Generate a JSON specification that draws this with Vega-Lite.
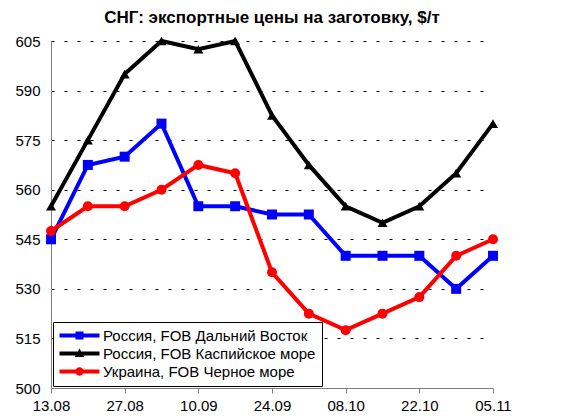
{
  "$schema": "https://vega.github.io/schema/vega-lite/v6.json",
  "autosize": "none",
  "width": 442,
  "height": 347,
  "padding": {"left": 51, "top": 41, "right": 81, "bottom": 30},
  "background": "white",
  "config": {
    "view": {"stroke": null},
    "font": "Liberation Sans",
    "title": {"font": "Liberation Sans", "fontSize": 17, "fontWeight": "bold", "color": "black"}
  },
  "title": {"text": "СНГ: экспортные цены на заготовку, $/т", "offset": 6, "baseline": "bottom", "anchor": "middle", "frame": "group", "dy": 17},
  "data": {
    "values": [
      {"date": "2007-08-13", "series": "Россия, FOB Дальний Восток", "value": 545},
      {"date": "2007-08-20", "series": "Россия, FOB Дальний Восток", "value": 567.5},
      {"date": "2007-08-27", "series": "Россия, FOB Дальний Восток", "value": 570},
      {"date": "2007-09-03", "series": "Россия, FOB Дальний Восток", "value": 580},
      {"date": "2007-09-10", "series": "Россия, FOB Дальний Восток", "value": 555},
      {"date": "2007-09-17", "series": "Россия, FOB Дальний Восток", "value": 555},
      {"date": "2007-09-24", "series": "Россия, FOB Дальний Восток", "value": 552.5},
      {"date": "2007-10-01", "series": "Россия, FOB Дальний Восток", "value": 552.5},
      {"date": "2007-10-08", "series": "Россия, FOB Дальний Восток", "value": 540},
      {"date": "2007-10-15", "series": "Россия, FOB Дальний Восток", "value": 540},
      {"date": "2007-10-22", "series": "Россия, FOB Дальний Восток", "value": 540},
      {"date": "2007-10-29", "series": "Россия, FOB Дальний Восток", "value": 530},
      {"date": "2007-11-05", "series": "Россия, FOB Дальний Восток", "value": 540},
      {"date": "2007-08-13", "series": "Россия, FOB Каспийское море", "value": 555},
      {"date": "2007-08-20", "series": "Россия, FOB Каспийское море", "value": 575},
      {"date": "2007-08-27", "series": "Россия, FOB Каспийское море", "value": 595},
      {"date": "2007-09-03", "series": "Россия, FOB Каспийское море", "value": 605},
      {"date": "2007-09-10", "series": "Россия, FOB Каспийское море", "value": 602.5},
      {"date": "2007-09-17", "series": "Россия, FOB Каспийское море", "value": 605},
      {"date": "2007-09-24", "series": "Россия, FOB Каспийское море", "value": 582.5},
      {"date": "2007-10-01", "series": "Россия, FOB Каспийское море", "value": 567.5},
      {"date": "2007-10-08", "series": "Россия, FOB Каспийское море", "value": 555},
      {"date": "2007-10-15", "series": "Россия, FOB Каспийское море", "value": 550},
      {"date": "2007-10-22", "series": "Россия, FOB Каспийское море", "value": 555},
      {"date": "2007-10-29", "series": "Россия, FOB Каспийское море", "value": 565},
      {"date": "2007-11-05", "series": "Россия, FOB Каспийское море", "value": 580},
      {"date": "2007-08-13", "series": "Украина, FOB Черное море", "value": 547.5},
      {"date": "2007-08-20", "series": "Украина, FOB Черное море", "value": 555},
      {"date": "2007-08-27", "series": "Украина, FOB Черное море", "value": 555},
      {"date": "2007-09-03", "series": "Украина, FOB Черное море", "value": 560},
      {"date": "2007-09-10", "series": "Украина, FOB Черное море", "value": 567.5},
      {"date": "2007-09-17", "series": "Украина, FOB Черное море", "value": 565},
      {"date": "2007-09-24", "series": "Украина, FOB Черное море", "value": 535},
      {"date": "2007-10-01", "series": "Украина, FOB Черное море", "value": 522.5},
      {"date": "2007-10-08", "series": "Украина, FOB Черное море", "value": 517.5},
      {"date": "2007-10-15", "series": "Украина, FOB Черное море", "value": 522.5},
      {"date": "2007-10-22", "series": "Украина, FOB Черное море", "value": 527.5},
      {"date": "2007-10-29", "series": "Украина, FOB Черное море", "value": 540},
      {"date": "2007-11-05", "series": "Украина, FOB Черное море", "value": 545}
    ]
  },
  "encoding": {
    "x": {
      "field": "date", "type": "temporal",
      "scale": {"type": "utc", "domain": [{"year": 2007, "month": 8, "date": 13, "utc": true}, {"year": 2007, "month": 11, "date": 5, "utc": true}]},
      "axis": {
        "title": null, "labelExpr": "utcFormat(datum.value, '%d.%m')",
        "values": [
          {"year": 2007, "month": 8, "date": 13, "utc": true},
          {"year": 2007, "month": 8, "date": 27, "utc": true},
          {"year": 2007, "month": 9, "date": 10, "utc": true},
          {"year": 2007, "month": 9, "date": 24, "utc": true},
          {"year": 2007, "month": 10, "date": 8, "utc": true},
          {"year": 2007, "month": 10, "date": 22, "utc": true},
          {"year": 2007, "month": 11, "date": 5, "utc": true}
        ],
        "grid": false, "domainColor": "#808080", "tickColor": "#808080", "tickSize": 5,
        "labelFont": "Liberation Sans", "labelFontSize": 15, "labelColor": "black", "labelPadding": 5,
        "labelFlush": false, "labelOverlap": false
      }
    },
    "y": {
      "field": "value", "type": "quantitative",
      "scale": {"domain": [500, 605], "nice": false, "zero": false},
      "axis": {
        "title": null, "values": [500, 515, 530, 545, 560, 575, 590, 605],
        "ticks": false, "domainColor": "#808080", "grid": true, "gridColor": "black", "gridDash": [3, 10], "gridWidth": 1,
        "labelFont": "Liberation Sans", "labelFontSize": 15, "labelColor": "black", "labelPadding": 11
      }
    }
  },
  "layer": [
    {
      "mark": {"type": "line", "strokeWidth": 4},
      "encoding": {
        "color": {"field": "series", "type": "nominal", "legend": null,
          "scale": {"domain": ["Россия, FOB Дальний Восток", "Россия, FOB Каспийское море", "Украина, FOB Черное море"], "range": ["#0000FF", "#000000", "#FF0000"]}}
      }
    },
    {
      "mark": {"type": "point", "filled": true, "opacity": 1, "size": 100},
      "encoding": {
        "color": {"field": "series", "type": "nominal", "legend": null,
          "scale": {"domain": ["Россия, FOB Дальний Восток", "Россия, FOB Каспийское море", "Украина, FOB Черное море"], "range": ["#0000FF", "#000000", "#FF0000"]}},
        "shape": {"field": "series", "type": "nominal", "legend": null,
          "scale": {"domain": ["Россия, FOB Дальний Восток", "Россия, FOB Каспийское море", "Украина, FOB Черное море"], "range": ["square", "triangle-up", "circle"]}}
      }
    },
    {
      "mark": {"type": "point", "filled": true, "opacity": 0},
      "encoding": {
        "color": {"field": "series", "type": "nominal",
          "scale": {"domain": ["Россия, FOB Дальний Восток", "Россия, FOB Каспийское море", "Украина, FOB Черное море"], "range": ["#0000FF", "#000000", "#FF0000"]},
          "legend": {
            "title": null, "orient": "none", "legendX": 2, "legendY": 281,
            "symbolSize": 196, "symbolOpacity": 1, "symbolStrokeWidth": 0,
            "labelFont": "Liberation Sans", "labelFontSize": 15, "labelColor": "black", "labelOffset": 29,
            "strokeColor": "black", "fillColor": "white", "padding": 6, "rowPadding": 2, "labelLimit": 400
          }},
        "shape": {"field": "series", "type": "nominal",
          "scale": {"domain": ["Россия, FOB Дальний Восток", "Россия, FOB Каспийское море", "Украина, FOB Черное море"],
            "range": [
              "M-1,-0.286H4.714V0.286H-1Z M1.286,-0.571H2.429V0.571H1.286Z",
              "M-1,-0.286H4.714V0.286H-1Z M1.857,-0.7L2.52,0.5H1.19Z",
              "M-1,-0.286H4.714V0.286H-1Z M1.257,0A0.6,0.6 0 1,1 2.457,0A0.6,0.6 0 1,1 1.257,0Z"
            ]},
          "legend": {
            "title": null, "orient": "none", "legendX": 2, "legendY": 281,
            "symbolSize": 196, "symbolOpacity": 1, "symbolStrokeWidth": 0,
            "labelFont": "Liberation Sans", "labelFontSize": 15, "labelColor": "black", "labelOffset": 29,
            "strokeColor": "black", "fillColor": "white", "padding": 6, "rowPadding": 2, "labelLimit": 400
          }}
      }
    }
  ],
  "resolve": {"scale": {"color": "independent", "shape": "independent"}}
}
